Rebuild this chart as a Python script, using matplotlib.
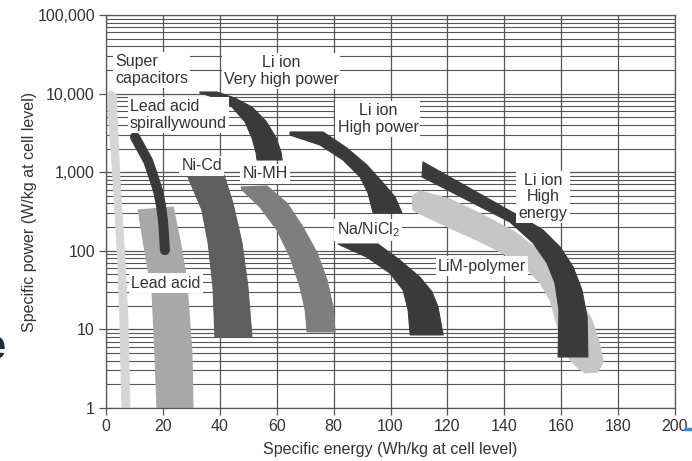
import matplotlib
matplotlib.use("Agg")
import matplotlib.pyplot as plt
from matplotlib.patches import Polygon
from matplotlib.ticker import FixedLocator, NullFormatter
import numpy as np

plt.rcParams['font.family'] = ['Liberation Sans', 'DejaVu Sans']
plt.rcParams['mathtext.fontset'] = 'custom'
plt.rcParams['mathtext.rm'] = 'Liberation Sans'

# ---- data (outlines of each technology region: energy Wh/kg, power W/kg) ----
supercap_energy = [0.4, 1.4, 3.5, 4.9, 6.7, 7.7, 8.4, 5.6, 4.9, 4.2, 2.5]
supercap_power = [9600, 10800, 10000, 800, 70, 13, 1, 1, 13, 70, 800]

spiral_energy = [10.2, 12.3, 14.8, 16.5, 18.3, 19.3, 20.0, 20.4, 20.7]
spiral_power = [2800, 2030, 1390, 920, 577, 383, 247, 159, 102]

leadacid_energy = [11.3, 23.6, 26.0, 27.8, 28.8, 30.2, 30.6, 17.9, 17.2, 16.2, 14.8, 13.0]
leadacid_power = [330, 361, 137, 57, 26, 5.0, 1, 1, 5.0, 29, 57, 137]

nicd_energy = [28.8, 41.5, 44.6, 47.8, 49.9, 51.3, 38.3, 37.6, 35.9, 33.7]
nicd_power = [869, 921, 406, 126, 34.6, 8.0, 8.0, 34.6, 126, 330]

nimh_energy = [47.5, 56.6, 63.6, 69.2, 74.2, 77.7, 79.8, 80.5,
               70.7, 70.0, 68.2, 64.7, 60.1, 54.1, 47.8]
nimh_power = [649, 668, 406, 201, 94, 42.5, 19.3, 9.3,
              9.3, 17.7, 34.6, 83, 184, 361, 594]

livhp_energy = [33.0, 39.0, 45.3, 51.3, 56.2, 59.8, 61.5, 61.9,
                53.1, 52.7, 51.3, 48.9, 44.3, 37.6, 33.0]
livhp_power = [10480, 10480, 8790, 6750, 4480, 2725, 1810, 1430,
               1430, 1810, 2725, 4350, 6750, 9060, 10180]

lihp_energy = [64.7, 76.3, 84.7, 91.7, 97.4, 101.6, 104.0,
               93.9, 92.1, 89.3, 83.3, 75.2, 64.7]
lihp_power = [3250, 3250, 2030, 1235, 729, 484, 303,
              303, 544, 869, 1430, 2220, 2970]

nanicl_energy = [81.6, 95.6, 103.3, 110.4, 114.6, 116.7, 118.5,
                 106.9, 106.2, 104.4, 99.8, 91.7, 83.0]
nanicl_power = [122, 122, 76, 46, 30, 19.3, 8.5,
                8.5, 17.7, 31.7, 52, 83, 115]

lihe_energy = [111.4, 142.7, 149.0, 153.6, 159.6, 164.2, 167.3, 169.1, 169.4,
               158.9, 159.2, 157.8, 155.0, 150.1, 142.0, 126.9, 111.1]
lihe_power = [1350, 312, 232, 184, 112, 62, 31.7, 14.4, 4.46,
              4.46, 17.7, 38.9, 70, 126, 232, 443, 869]

lim_energy = [107.6, 110.4, 120.9, 132.5, 143.8, 154.3, 161.3, 166.6, 170.8,
              173.6, 174.7, 172.9, 168.4, 165.9, 163.1, 160.6, 158.5, 156.1,
              152.6, 148.3, 142.0, 132.5, 120.9, 110.4, 107.9]
lim_power = [498, 577, 456, 286, 173, 88, 42.5, 23.7, 13.2,
             6.3, 3.85, 2.87, 2.79, 3.23, 4.08, 6.3, 11.4, 23.7,
             38.9, 57, 83, 126, 195, 294, 330]

x_ticks = [0, 20, 40, 60, 80, 100, 120, 140, 160, 180, 200]
y_ticks = [1, 10, 100, 1000, 10000, 100000]
y_tick_labels = ["1", "10", "100", "1,000", "10,000", "100,000"]

labels = [
    ("Super\ncapacitors", 3.2, 19950, 'left'),
    ("Li ion\nVery high power", 61.5, 19400, 'center'),
    ("Lead acid\nspirallywound", 8.4, 5345, 'left'),
    ("Ni-Cd", 33.7, 1200, 'center'),
    ("Ni-MH", 55.9, 950, 'center'),
    ("Li ion\nHigh power", 95.6, 4755, 'center'),
    (r"Na/NiCl$_\mathregular{2}$", 92.1, 184, 'center'),
    ("Li ion\nHigh\nenergy", 153.6, 484, 'center'),
    ("LiM-polymer", 132.2, 64, 'center'),
    ("Lead acid", 21.1, 38.9, 'center'),
]

c_dark = '#3a3a3a'
c_nicd = '#5e5e5e'
c_nimh = '#7e7e7e'
c_lead = '#a8a8a8'
c_lim = '#c6c6c6'
c_sc = '#d6d6d6'
c_text = '#333333'
c_grid = '#555555'

fig = plt.figure(figsize=(6.92, 4.61), dpi=100)
ax = fig.add_axes([106 / 692, 53 / 461, 569 / 692, 393 / 461])
ax.set_yscale('log')
ax.set_xlim(0, 200)
ax.set_ylim(1, 100000)

# grid
ax.xaxis.set_major_locator(FixedLocator(x_ticks))
ax.yaxis.set_major_locator(FixedLocator(y_ticks))
minor_y = [m * 10 ** k for k in range(0, 5) for m in range(2, 10)]
ax.yaxis.set_minor_locator(FixedLocator(minor_y))
ax.yaxis.set_minor_formatter(NullFormatter())
ax.set_yticklabels(y_tick_labels)
ax.grid(True, which='major', color=c_grid, lw=0.9, zorder=0)
ax.grid(True, which='minor', axis='y', color=c_grid, lw=0.8, zorder=0)
ax.set_axisbelow(True)
ax.tick_params(which='minor', length=0)
ax.tick_params(which='major', length=5, width=0.9, color=c_grid,
               labelsize=11.5, labelcolor=c_text, pad=3)
for s in ax.spines.values():
    s.set_color(c_grid)
    s.set_linewidth(0.9)

def band(e, p, color, z):
    ax.add_patch(Polygon(np.column_stack([e, p]), closed=True, facecolor=color,
                         edgecolor=color, lw=0.8, joinstyle='round', zorder=z))

band(supercap_energy, supercap_power, c_sc, 2)
band(leadacid_energy, leadacid_power, c_lead, 2)
ax.plot(spiral_energy, spiral_power, color=c_dark, lw=7.2,
        solid_capstyle='round', solid_joinstyle='round', zorder=3)
band(nicd_energy, nicd_power, c_nicd, 2)
band(nimh_energy, nimh_power, c_nimh, 2)
band(livhp_energy, livhp_power, c_dark, 2)
band(lihp_energy, lihp_power, c_dark, 2)
band(nanicl_energy, nanicl_power, c_dark, 2)
band(lim_energy, lim_power, c_lim, 2)
band(lihe_energy, lihe_power, c_dark, 3)

for txt, x, y, ha in labels:
    ax.text(x, y, txt, ha=ha, va='center', fontsize=11.5, color=c_text,
            linespacing=1.15, zorder=5,
            bbox=dict(facecolor='white', edgecolor='none', pad=1.5))

ax.set_xlabel("Specific energy (Wh/kg at cell level)", fontsize=11.5,
              color=c_text, labelpad=6)
ax.set_ylabel("Specific power (W/kg at cell level)", fontsize=11.5,
              color=c_text, labelpad=0)

# stray slide fragments at the edges
fig.text(-6 / 692, 0.245, "e", fontsize=30, color='#1f2d3a', ha='center',
         va='center', fontweight='bold')
fig.add_artist(plt.Line2D([686 / 692, 692 / 692], [32 / 461, 32 / 461],
                          color='#3a8ad0', lw=2.5))

fig.savefig("out.png", dpi=100)
